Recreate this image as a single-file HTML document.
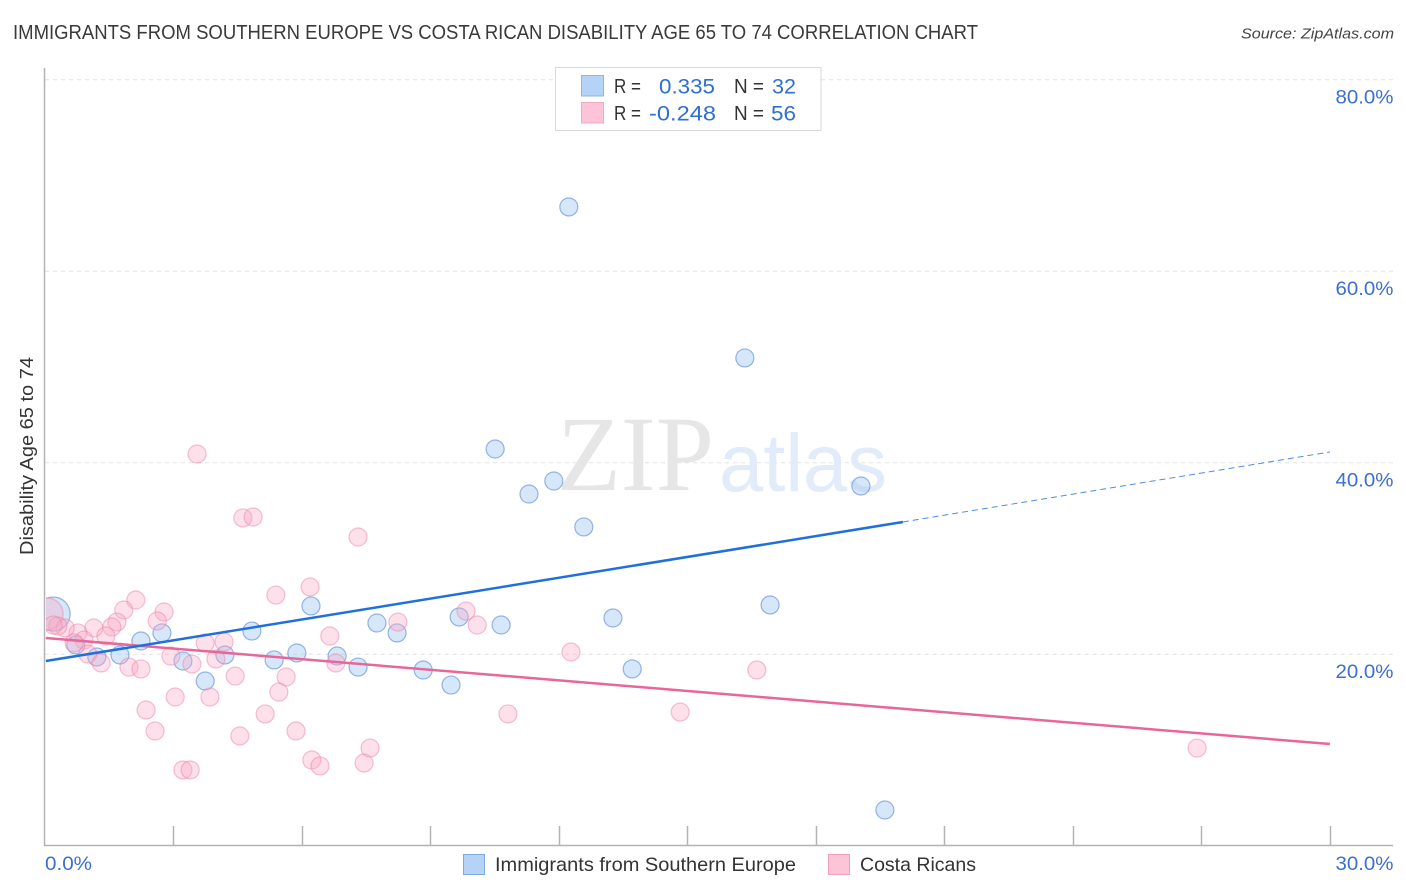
<!DOCTYPE html>
<html lang="en">
<head>
<meta charset="utf-8">
<title>Immigrants from Southern Europe vs Costa Rican Disability Age 65 to 74 Correlation Chart</title>
<style>
html,body{margin:0;padding:0;background:#fff;}
body{width:1406px;height:892px;overflow:hidden;font-family:"Liberation Sans",sans-serif;}
svg{display:block;}
text{font-family:"Liberation Sans",sans-serif;}
</style>
</head>
<body>
<svg id="chart" width="1406" height="892" viewBox="0 0 1406 892" xmlns="http://www.w3.org/2000/svg">
  <defs>
    <clipPath id="plot-clip"><rect x="46" y="60" width="1350" height="785"/></clipPath>
  </defs>
  <rect x="0" y="0" width="1406" height="892" fill="#ffffff"/>
  <text x="13" y="39" font-size="20" fill="#3a3a3a" textLength="965" lengthAdjust="spacingAndGlyphs">IMMIGRANTS FROM SOUTHERN EUROPE VS COSTA RICAN DISABILITY AGE 65 TO 74 CORRELATION CHART</text>
  <text x="1241" y="38.5" font-size="15" font-style="italic" fill="#444444" textLength="153" lengthAdjust="spacingAndGlyphs">Source: ZipAtlas.com</text>
  <g id="grid"></g>
  <text x="557" y="490" font-size="107" fill="#e6e6e6" textLength="157" lengthAdjust="spacingAndGlyphs" style="font-family:'Liberation Serif',serif">ZIP</text>
  <text x="719" y="491" font-size="82" fill="#e2ebf9" textLength="168" lengthAdjust="spacingAndGlyphs">atlas</text>
  <g id="axes">
    <line x1="44.5" y1="68" x2="44.5" y2="846" stroke="#b4b4b4" stroke-width="1.5"/>
    <line x1="44" y1="845.5" x2="1393" y2="845.5" stroke="#b4b4b4" stroke-width="1.5"/>
  </g>
  <g id="points-blue" clip-path="url(#plot-clip)"></g>
  <g id="points-pink" clip-path="url(#plot-clip)"></g>
  <g id="trend-lines"></g>
  <g>
    <rect x="555.5" y="67.5" width="265.5" height="63" fill="#ffffff" stroke="#d9d9d9" stroke-width="1"/>
    <rect x="581.5" y="75.5" width="22" height="20.5" fill="#b5d2f7" stroke="#8fb4e6"/>
    <rect x="581.5" y="102.5" width="22" height="20.5" fill="#fcc4d6" stroke="#f4a9c2"/>
    <text x="614" y="93" font-size="20" fill="#333333" textLength="27" lengthAdjust="spacingAndGlyphs">R =</text>
    <text x="659" y="93.5" font-size="21" fill="#2f6fd0" textLength="56" lengthAdjust="spacingAndGlyphs">0.335</text>
    <text x="734" y="93" font-size="20" fill="#333333" textLength="30" lengthAdjust="spacingAndGlyphs">N =</text>
    <text x="772" y="93.5" font-size="21" fill="#2f6fd0" textLength="24" lengthAdjust="spacingAndGlyphs">32</text>
    <text x="614" y="120" font-size="20" fill="#333333" textLength="27" lengthAdjust="spacingAndGlyphs">R =</text>
    <text x="649" y="120.5" font-size="21" fill="#2f6fd0" textLength="67" lengthAdjust="spacingAndGlyphs">-0.248</text>
    <text x="734" y="120" font-size="20" fill="#333333" textLength="30" lengthAdjust="spacingAndGlyphs">N =</text>
    <text x="771" y="120.5" font-size="21" fill="#2f6fd0" textLength="25" lengthAdjust="spacingAndGlyphs">56</text>
  </g>
  <text transform="translate(33,555) rotate(-90)" font-size="18" fill="#333333" textLength="198" lengthAdjust="spacingAndGlyphs">Disability Age 65 to 74</text>
  <g id="tick-labels"></g>
  <g>
    <rect x="463.5" y="854.5" width="21" height="20" fill="#b5d2f7" stroke="#7fa8e0"/>
    <text x="495" y="871" font-size="19.5" fill="#333333" textLength="301" lengthAdjust="spacingAndGlyphs">Immigrants from Southern Europe</text>
    <rect x="828.5" y="854.5" width="21" height="20" fill="#fcc4d6" stroke="#f0a0bc"/>
    <text x="860" y="871" font-size="19.5" fill="#333333" textLength="116" lengthAdjust="spacingAndGlyphs">Costa Ricans</text>
  </g>
</svg>
<script>
const xTickValues = [3, 6, 9, 12, 15, 18, 21, 24, 27, 30];
const yTickValues = [20, 40, 60, 80];
const yTickLabels = ['20.0%', '40.0%', '60.0%', '80.0%'];
const xEndLabels = ['0.0%', '30.0%'];

const blueX = [0.19, 12.23, 16.34, 10.51, 11.88, 11.30, 19.05, 12.58, 16.93, 6.21, 13.26, 9.67, 10.65, 7.75, 8.22, 4.83, 2.73, 2.24, 0.72, 1.21, 1.75, 3.22, 4.20, 5.35, 5.88, 6.82, 7.31, 8.83, 9.48, 13.71, 3.74, 19.61];
const blueY = [24.23, 66.74, 50.97, 41.46, 38.12, 36.76, 37.60, 33.32, 25.17, 25.07, 23.81, 23.92, 23.08, 23.29, 22.25, 22.45, 22.25, 21.41, 20.99, 19.74, 19.95, 19.32, 19.95, 19.43, 20.16, 19.84, 18.69, 18.38, 16.81, 18.49, 17.23, 3.76];

const pinkX = [0.05, 3.55, 4.62, 4.86, 7.31, 6.19, 5.39, 2.12, 1.84, 2.78, 2.62, 1.68, 1.56, 1.14, 0.77, 0.47, 0.30, 0.19, 0.91, 1.42, 0.68, 1.00, 1.31, 1.96, 2.24, 2.94, 3.43, 3.99, 3.74, 4.18, 4.44, 5.63, 5.46, 3.04, 3.85, 2.36, 2.57, 5.14, 5.86, 4.55, 3.22, 3.39, 6.23, 6.42, 7.45, 7.59, 6.79, 6.65, 8.24, 9.83, 10.09, 12.28, 10.81, 14.83, 16.62, 26.90];
const pinkY = [24.23, 40.94, 34.26, 34.36, 32.27, 27.05, 26.21, 25.69, 24.65, 24.44, 23.50, 23.39, 22.87, 22.77, 22.25, 22.77, 22.98, 23.08, 21.51, 21.93, 21.20, 20.05, 19.11, 18.69, 18.49, 19.84, 19.01, 19.53, 21.20, 21.31, 17.75, 17.65, 16.08, 15.56, 15.56, 14.20, 12.01, 13.79, 12.01, 11.49, 7.94, 7.94, 8.98, 8.36, 8.67, 10.23, 19.11, 21.93, 23.39, 24.54, 23.08, 20.26, 13.79, 13.99, 18.38, 10.23];

const blueTrendX = [0.02, 20.03, 30];
const blueTrendY = [19.32, 33.84, 41.15];
const pinkTrendX = [0.02, 30];
const pinkTrendY = [21.72, 10.65];

const SVG_NS = 'http://www.w3.org/2000/svg';
const xScale = function (v) { return 45 + v * 42.83; };
const yScale = function (v) { return 846 - v * 9.575; };
const make = function (tag, attrs, parent) {
  const el = document.createElementNS(SVG_NS, tag);
  Object.keys(attrs).forEach(function (k) { el.setAttribute(k, attrs[k]); });
  parent.appendChild(el);
  return el;
};

const gridGroup = document.getElementById('grid');
const axesGroup = document.getElementById('axes');
const labelGroup = document.getElementById('tick-labels');
const blueGroup = document.getElementById('points-blue');
const pinkGroup = document.getElementById('points-pink');
const trendGroup = document.getElementById('trend-lines');

yTickValues.forEach(function (v, i) {
  const y = yScale(v) - 0.2;
  const line = make('line', { x1: 45, x2: 1393, y1: y, y2: y, stroke: '#e2e2e2', 'stroke-width': 1, 'stroke-dasharray': '4 4' }, gridGroup);
  
  
  const label = make('text', { x: 1393.5, y: y + 23.5, 'text-anchor': 'end', 'font-size': 19.5, fill: '#3b6fd0', textLength: 58, lengthAdjust: 'spacingAndGlyphs' }, labelGroup);
  
  
  label.textContent = yTickLabels[i];
});

xTickValues.forEach(function (v) {
  const x = Math.round(xScale(v)) + 0.5;
  const tick = make('line', { x1: x, x2: x, y1: 826, y2: 846, stroke: '#b4b4b4', 'stroke-width': 1.5 }, axesGroup);
  
  
});

const xStartLabel = make('text', { x: xScale(0), y: 870, 'font-size': 19.5, fill: '#3b6fd0', textLength: 47, lengthAdjust: 'spacingAndGlyphs' }, labelGroup);


xStartLabel.textContent = xEndLabels[0];

const xEndLabel = make('text', { x: 1393.5, y: 870, 'text-anchor': 'end', 'font-size': 19.5, fill: '#3b6fd0', textLength: 58, lengthAdjust: 'spacingAndGlyphs' }, labelGroup);


xEndLabel.textContent = xEndLabels[1];

blueX.forEach(function (v, i) {
  const dot = make('circle', { cx: xScale(v), cy: yScale(blueY[i]), r: i === 0 ? 17 : 9, fill: 'rgba(160,198,243,0.42)', stroke: 'rgba(70,125,210,0.55)', 'stroke-width': 1.2 }, blueGroup);
  
  
});

pinkX.forEach(function (v, i) {
  const dot = make('circle', { cx: xScale(v), cy: yScale(pinkY[i]), r: i === 0 ? 16 : 9, fill: 'rgba(250,170,195,0.36)', stroke: 'rgba(238,130,170,0.5)', 'stroke-width': 1.2 }, pinkGroup);
  
  
});

const pinkTrend = make('line', { x1: xScale(pinkTrendX[0]), y1: yScale(pinkTrendY[0]), x2: xScale(pinkTrendX[1]), y2: yScale(pinkTrendY[1]), stroke: '#e8669a', 'stroke-width': 2.5 }, trendGroup);



const blueTrend = make('line', { x1: xScale(blueTrendX[0]), y1: yScale(blueTrendY[0]), x2: xScale(blueTrendX[1]), y2: yScale(blueTrendY[1]), stroke: '#1f6fdc', 'stroke-width': 2.5 }, trendGroup);



const blueProjection = make('line', { x1: xScale(blueTrendX[1]), y1: yScale(blueTrendY[1]), x2: xScale(blueTrendX[2]), y2: yScale(blueTrendY[2]), stroke: '#1f6fdc', 'stroke-width': 1, 'stroke-opacity': 0.8, 'stroke-dasharray': '6 4' }, trendGroup);


</script>
</body>
</html>
